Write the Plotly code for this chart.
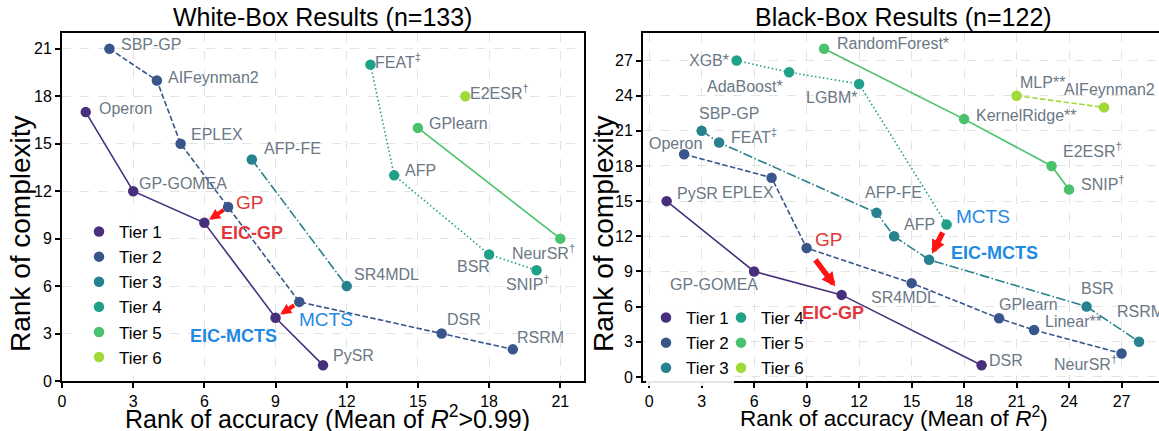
import plotly.graph_objects as go

# ---------------------------------------------------------------------------
# Tier styling
# ---------------------------------------------------------------------------
TIER_NAMES = ["Tier 1", "Tier 2", "Tier 3", "Tier 4", "Tier 5", "Tier 6"]
TIER_COLORS = ["#472f7d", "#39568c", "#27818e", "#1fa188", "#4ac16d", "#a0da39"]
TIER_DASH = ["solid", "5.5px,2.4px", "9.6px,2.4px,1.5px,2.4px", "1.5px,2.5px",
             "solid", "5.5px,2.4px"]

# ---------------------------------------------------------------------------
# White-box results (n=133): rank of accuracy vs. rank of complexity
# ---------------------------------------------------------------------------
WB_T1_NAMES = ["Operon", "GP-GOMEA", "EIC-GP", "EIC-MCTS", "PySR"]
WB_T1_ACC = [1, 3, 6, 9, 11]
WB_T1_CPX = [17, 12, 10, 4, 1]

WB_T2_NAMES = ["SBP-GP", "AIFeynman2", "EPLEX", "GP", "MCTS", "DSR", "RSRM"]
WB_T2_ACC = [2, 4, 5, 7, 10, 16, 19]
WB_T2_CPX = [21, 19, 15, 11, 5, 3, 2]

WB_T3_NAMES = ["AFP-FE", "SR4MDL"]
WB_T3_ACC = [8, 12]
WB_T3_CPX = [14, 6]

WB_T4_NAMES = ["FEAT‡", "AFP", "BSR", "SNIP†"]
WB_T4_ACC = [13, 14, 18, 20]
WB_T4_CPX = [20, 13, 8, 7]

WB_T5_NAMES = ["GPlearn", "NeurSR†"]
WB_T5_ACC = [15, 21]
WB_T5_CPX = [16, 9]

WB_T6_NAMES = ["E2ESR†"]
WB_T6_ACC = [17]
WB_T6_CPX = [18]

# ---------------------------------------------------------------------------
# Black-box results (n=122)
# ---------------------------------------------------------------------------
BB_T1_NAMES = ["PySR", "GP-GOMEA", "EIC-GP", "DSR"]
BB_T1_ACC = [1, 6, 11, 19]
BB_T1_CPX = [15, 9, 7, 1]

BB_T2_NAMES = ["Operon", "EPLEX", "GP", "SR4MDL", "GPlearn", "Linear**", "NeurSR†"]
BB_T2_ACC = [2, 7, 9, 15, 20, 22, 27]
BB_T2_CPX = [19, 17, 11, 8, 5, 4, 2]

BB_T3_NAMES = ["SBP-GP", "FEAT‡", "AFP-FE", "AFP", "EIC-MCTS", "BSR", "RSRM"]
BB_T3_ACC = [3, 4, 13, 14, 16, 25, 28]
BB_T3_CPX = [21, 20, 14, 12, 10, 6, 3]

BB_T4_NAMES = ["XGB*", "AdaBoost*", "LGBM*", "MCTS"]
BB_T4_ACC = [5, 8, 12, 17]
BB_T4_CPX = [27, 26, 25, 13]

BB_T5_NAMES = ["RandomForest*", "KernelRidge**", "E2ESR†", "SNIP†"]
BB_T5_ACC = [10, 18, 23, 24]
BB_T5_CPX = [28, 22, 18, 16]

BB_T6_NAMES = ["MLP**", "AIFeynman2"]
BB_T6_ACC = [21, 26]
BB_T6_CPX = [24, 23]

WB_TIERS = [
    (WB_T1_NAMES, WB_T1_ACC, WB_T1_CPX), (WB_T2_NAMES, WB_T2_ACC, WB_T2_CPX),
    (WB_T3_NAMES, WB_T3_ACC, WB_T3_CPX), (WB_T4_NAMES, WB_T4_ACC, WB_T4_CPX),
    (WB_T5_NAMES, WB_T5_ACC, WB_T5_CPX), (WB_T6_NAMES, WB_T6_ACC, WB_T6_CPX),
]
BB_TIERS = [
    (BB_T1_NAMES, BB_T1_ACC, BB_T1_CPX), (BB_T2_NAMES, BB_T2_ACC, BB_T2_CPX),
    (BB_T3_NAMES, BB_T3_ACC, BB_T3_CPX), (BB_T4_NAMES, BB_T4_ACC, BB_T4_CPX),
    (BB_T5_NAMES, BB_T5_ACC, BB_T5_CPX), (BB_T6_NAMES, BB_T6_ACC, BB_T6_CPX),
]

# Label placement: (xanchor, xshift px, yshift px) relative to the point
WB_LABEL_POS = {
    "Operon": ("left", 11, 4), "SBP-GP": ("left", 10, 4),
    "AIFeynman2": ("left", 9, 3), "EPLEX": ("left", 8, 9),
    "GP-GOMEA": ("left", 4, 8), "AFP-FE": ("left", 10, 11),
    "FEAT‡": ("left", 3, 4), "E2ESR†": ("left", 3, 4),
    "GPlearn": ("left", 9, 4), "AFP": ("left", 9, 5),
    "SR4MDL": ("left", 5, 12), "NeurSR†": ("right", 17, -13),
    "BSR": ("right", 3, -12), "SNIP†": ("right", 15, -13),
    "DSR": ("left", 3, 14), "RSRM": ("left", 2, 12),
    "PySR": ("left", 8, 10), "GP": ("left", 6, 5),
    "EIC-GP": ("left", 15, -10), "MCTS": ("left", -2, -18),
    "EIC-MCTS": ("right", 3, -18),
}
BB_LABEL_POS = {
    "PySR": ("left", 8.5, 8), "EPLEX": ("right", 4, -15),
    "Operon": ("right", 20, 11), "SBP-GP": ("left", -4.5, 17),
    "FEAT‡": ("left", 10, 7), "XGB*": ("right", -6, 0),
    "AdaBoost*": ("right", -4, -14), "LGBM*": ("right", 1, -14),
    "RandomForest*": ("left", 11, 5), "KernelRidge**": ("left", 10, 4),
    "MLP**": ("left", 1.5, 13), "AIFeynman2": ("center", 5, 18),
    "E2ESR†": ("left", 9, 16), "SNIP†": ("left", 10, 6),
    "AFP-FE": ("left", -13.5, 20), "AFP": ("left", 8, 12),
    "MCTS": ("left", 7.5, 8), "EIC-MCTS": ("left", 20, 7),
    "BSR": ("center", 11, 18), "RSRM": ("left", -24, 30),
    "SR4MDL": ("center", -8, -14), "GPlearn": ("left", -2, 14),
    "Linear**": ("left", 9, 9), "NeurSR†": ("right", -3, -10),
    "DSR": ("left", 5.5, 5), "GP-GOMEA": ("right", 6, -13.5),
    "GP": ("left", 6, 9), "EIC-GP": ("center", -9, -18),
}

# Improvement arrows: (from method, to method, start fraction, end fraction, width, head size)
WB_ARROWS = [("GP", "EIC-GP", 0.12, 0.80, 4, 0.55),
             ("MCTS", "EIC-MCTS", 0.15, 0.80, 4, 0.55)]
BB_ARROWS = [("GP", "EIC-GP", 0.22, 0.82, 5.5, 0.5),
             ("MCTS", "EIC-MCTS", 0.18, 0.83, 5.5, 0.5)]

FONT = "Liberation Sans, Arial, sans-serif"
LABEL_GRAY = "#6b7885"
RED = "#e2373b"
BLUE = "#1f8ae3"

fig = go.Figure()
annotations = []


def fmt_name(name):
    for mark in ("‡", "†"):
        if name.endswith(mark):
            return name[:-1] + "<sup>" + mark + "</sup>"
    return name


def label_style(name):
    if name == "GP":
        return "GP", RED, 19
    if name == "MCTS":
        return "MCTS", BLUE, 19
    if name == "EIC-GP":
        return "<b>EIC-GP</b>", RED, 18
    if name == "EIC-MCTS":
        return "<b>EIC-MCTS</b>", BLUE, 18
    return fmt_name(name), LABEL_GRAY, 16


def add_panel(tiers, label_pos, arrows, xref, yref, legends):
    coords = {}
    for i, (names, acc, cpx) in enumerate(tiers):
        # connecting line of the tier
        fig.add_trace(go.Scatter(
            x=acc, y=cpx, mode="lines", xaxis=xref, yaxis=yref,
            line=dict(color=TIER_COLORS[i], width=1.6, dash=TIER_DASH[i]),
            showlegend=False, hoverinfo="skip"))
    for i, (names, acc, cpx) in enumerate(tiers):
        fig.add_trace(go.Scatter(
            x=acc, y=cpx, mode="markers", xaxis=xref, yaxis=yref,
            name=TIER_NAMES[i], legend=legends[i],
            marker=dict(color=TIER_COLORS[i], size=10.5, line=dict(width=0)),
            text=names, hovertemplate="%{text}<extra></extra>"))
        for n, a, c in zip(names, acc, cpx):
            coords[n] = (a, c)
            anchor, dx, dy = label_pos[n]
            text, color, size = label_style(n)
            annotations.append(dict(
                x=a, y=c, xref=xref, yref=yref, text=text, showarrow=False,
                xanchor=anchor, yanchor="middle", xshift=dx, yshift=dy,
                font=dict(family=FONT, size=size, color=color)))
    for src, dst, f0, f1, w, hs in arrows:
        (x0, y0), (x1, y1) = coords[src], coords[dst]
        annotations.append(dict(
            x=x0 + f1 * (x1 - x0), y=y0 + f1 * (y1 - y0),
            ax=x0 + f0 * (x1 - x0), ay=y0 + f0 * (y1 - y0),
            xref=xref, yref=yref, axref=xref, ayref=yref, text="",
            showarrow=True, arrowhead=2, arrowsize=hs, arrowwidth=w,
            arrowcolor="#ff1414", standoff=0, startstandoff=0))


add_panel(WB_TIERS, WB_LABEL_POS, WB_ARROWS, "x", "y", ["legend"] * 6)
add_panel(BB_TIERS, BB_LABEL_POS, BB_ARROWS, "x2", "y2",
          ["legend2"] * 3 + ["legend3"] * 3)

axis_common = dict(
    showline=True, linewidth=2, linecolor="black",
    ticks="outside", ticklen=5, tickwidth=1.5, tickcolor="black",
    showgrid=True, gridcolor="#e3e3e3", gridwidth=1, griddash="dash",
    zeroline=False, tickfont=dict(family=FONT, size=16, color="black"),
    dtick=3, tick0=0,
)

W, H = 1159, 431
ML, MR, MT, MB = 62, 0, 33, 50
PW, PH = W - ML - MR, H - MT - MB


def px_x(p):
    return (p - ML) / PW


def px_y(p):
    return (H - MB - p) / PH


title_font = dict(family=FONT, size=25, color="black")
ylabel_font = dict(family=FONT, size=28, color="black")

annotations += [
    dict(text="White-Box Results (n=133)", x=px_x(322), y=px_y(17), xref="paper",
         yref="paper", showarrow=False, xanchor="center", yanchor="middle",
         font=title_font),
    dict(text="Black-Box Results (n=122)", x=px_x(903), y=px_y(17), xref="paper",
         yref="paper", showarrow=False, xanchor="center", yanchor="middle",
         font=title_font),
    dict(text="Rank of accuracy (Mean of <i>R</i><sup>2</sup>>0.99)", x=px_x(327),
         y=px_y(416.5), xref="paper", yref="paper", showarrow=False,
         xanchor="center", yanchor="middle",
         font=dict(family=FONT, size=25, color="black")),
    dict(text="Rank of accuracy (Mean of <i>R</i><sup>2</sup>)", x=px_x(894),
         y=px_y(417), xref="paper", yref="paper", showarrow=False,
         xanchor="center", yanchor="middle",
         font=dict(family=FONT, size=22.5, color="black")),
    dict(text="Rank of complexity", x=px_x(20), y=px_y(234), xref="paper",
         yref="paper", showarrow=False, textangle=-90, xanchor="center",
         yanchor="middle", font=ylabel_font),
    dict(text="Rank of complexity", x=px_x(603), y=px_y(234), xref="paper",
         yref="paper", showarrow=False, textangle=-90, xanchor="center",
         yanchor="middle", font=ylabel_font),
]

legend_common = dict(
    xanchor="left", yanchor="top", font=dict(family=FONT, size=17, color="black"),
    tracegroupgap=0, borderwidth=0,
)

fig.update_layout(
    width=W, height=H,
    margin=dict(l=ML, r=MR, t=MT, b=MB),
    paper_bgcolor="white", plot_bgcolor="white",
    font=dict(family=FONT),
    xaxis=dict(axis_common, domain=[0, px_x(584)], range=[0, 22], mirror=True),
    yaxis=dict(axis_common, range=[0, 22], mirror=True),
    xaxis2=dict(axis_common, domain=[px_x(643), 1], range=[-0.35, 29.14],
                mirror=True, anchor="y2"),
    yaxis2=dict(axis_common, range=[-0.35, 29.35], anchor="x2"),
    legend=dict(legend_common, x=px_x(79), y=px_y(214),
                bgcolor="rgba(255,255,255,0.9)"),
    legend2=dict(legend_common, x=px_x(646), y=px_y(300),
                 bgcolor="rgba(255,255,255,0.9)"),
    legend3=dict(legend_common, x=px_x(721), y=px_y(300),
                 bgcolor="rgba(255,255,255,0)"),
    annotations=annotations,
    showlegend=True,
)

fig.write_html("out.html")
